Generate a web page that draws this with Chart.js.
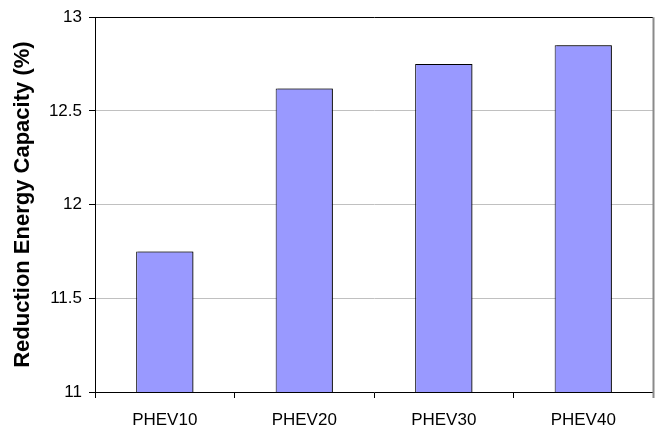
<!DOCTYPE html>
<html>
<head>
<meta charset="utf-8">
<script src="https://cdn.jsdelivr.net/npm/chart.js@4/dist/chart.umd.min.js"></script>
<style>
  html, body { margin: 0; padding: 0; background: #ffffff; }
  #wrap { width: 660px; height: 429px; position: relative; }
</style>
</head>
<body>
<div id="wrap"><canvas id="c" width="660" height="429"></canvas></div>
<script>
// Reduction in energy capacity per PHEV variant
const categories = ['PHEV10', 'PHEV20', 'PHEV30', 'PHEV40'];
const reductionPct = [11.75, 12.62, 12.75, 12.85];
const yTicks = [11, 11.5, 12, 12.5, 13];

const FONT = '"Liberation Sans", Arial, sans-serif';

// Soft drop shadow on the right side of each bar
const barShadow = {
  id: 'barShadow',
  beforeDatasetsDraw(chart) {
    const ctx = chart.ctx;
    ctx.save();
    ctx.shadowColor = 'rgba(0,0,0,0.55)';
    ctx.shadowOffsetX = 2;
    ctx.shadowOffsetY = 0;
    ctx.shadowBlur = 0;
  },
  afterDatasetsDraw(chart) {
    chart.ctx.restore();
  }
};

// Right-hand frame line of the plot area
const plotFrame = {
  id: 'plotFrame',
  afterDraw(chart) {
    const { ctx, chartArea: a } = chart;
    ctx.save();
    ctx.strokeStyle = '#8a8a8a';
    ctx.lineWidth = 2;
    ctx.beginPath();
    ctx.moveTo(a.right + 0.5, a.top);
    ctx.lineTo(a.right + 0.5, a.bottom + 6);
    ctx.stroke();
    ctx.restore();
  }
};

new Chart(document.getElementById('c'), {
  type: 'bar',
  data: {
    labels: categories,
    datasets: [{
      data: reductionPct,
      backgroundColor: '#9999ff',
      borderColor: '#000000',
      borderWidth: 1,
      borderSkipped: 'bottom',
      barPercentage: 0.41,
      categoryPercentage: 1.0
    }]
  },
  options: {
    responsive: false,
    animation: false,
    devicePixelRatio: 1,
    layout: { padding: { top: 15, right: 7, left: 0, bottom: 0 } },
    plugins: {
      legend: { display: false },
      tooltip: { enabled: false }
    },
    scales: {
      x: {
        offset: true,
        grid: {
          offset: true,
          drawOnChartArea: false,
          drawTicks: true,
          tickLength: 6,
          tickColor: '#000000',
          color: '#000000'
        },
        border: { display: true, color: '#000000', width: 1 },
        ticks: {
          color: '#000000',
          font: { family: FONT, size: 17 },
          padding: 12,
          maxRotation: 0
        },
        afterFit(scale) { scale.height = 37; }
      },
      y: {
        min: 11,
        max: 13,
        afterBuildTicks(scale) {
          scale.ticks = yTicks.map(v => ({ value: v }));
        },
        grid: {
          color: ctx => (ctx.tick && ctx.tick.value === 13) ? '#000000' : '#c0c0c0',
          lineWidth: 1,
          drawTicks: true,
          tickLength: 6,
          tickColor: '#000000'
        },
        border: { display: true, color: '#000000', width: 1 },
        ticks: {
          color: '#000000',
          font: { family: FONT, size: 17 },
          padding: 7,
          callback: v => String(v)
        },
        title: {
          display: true,
          text: 'Reduction Energy Capacity (%)',
          color: '#000000',
          font: { family: FONT, size: 22, weight: 'bold' },
          padding: { top: 10, bottom: 0 }
        },
        afterFit(scale) { scale.width = 95; }
      }
    }
  },
  plugins: [barShadow, plotFrame]
});
</script>
</body>
</html>
